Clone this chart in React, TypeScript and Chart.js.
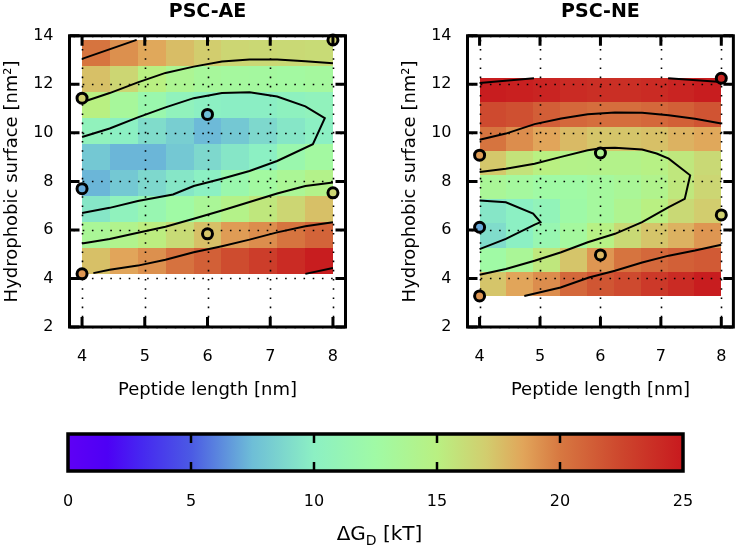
import React, { useEffect, useRef } from 'react';
import { Chart, registerables } from 'chart.js';

Chart.register(...registerables);

// ---------- data ----------
const lengthTicks = [4, 5, 6, 7, 8];
const surfaceTicks = [2, 4, 6, 8, 10, 12, 14];
const colorTicks = [0, 5, 10, 15, 20, 25];

const lengthRange = [4, 8];
const aeSurfaceRange = [4.19, 13.83];
const neSurfaceRange = [3.28, 12.25];

// Free energy grid (kT); rows from top (largest surface) to bottom, columns from 4 to 8 nm
const aeGrid = [
  [20.2, 19.2, 18.4, 17.6, 17.0, 16.5, 16.4, 16.3, 16.2],
  [17.5, 16.5, 15.0, 13.8, 13.2, 13.0, 12.9, 12.8, 13.0],
  [15.0, 13.2, 11.8, 10.6, 10.0, 9.9, 9.9, 10.3, 10.6],
  [10.6, 10.0, 9.0, 8.3, 7.4, 8.0, 8.8, 9.5, 10.0],
  [8.0, 7.3, 7.3, 8.0, 8.8, 9.5, 10.0, 11.8, 12.8],
  [7.3, 8.0, 8.8, 9.5, 10.0, 11.8, 12.8, 13.6, 14.4],
  [9.5, 10.5, 11.5, 12.5, 13.5, 14.5, 15.5, 16.5, 17.5],
  [13.5, 14.2, 15.2, 16.2, 17.5, 18.8, 19.3, 20.2, 21.0],
  [17.5, 18.5, 19.2, 20.3, 21.2, 22.2, 23.0, 24.0, 24.8],
];
const neGrid = [
  [24.8, 24.6, 24.4, 24.0, 23.8, 23.8, 24.0, 24.4, 24.8],
  [22.3, 22.0, 21.3, 20.8, 20.5, 20.5, 20.8, 21.2, 21.8],
  [20.2, 19.3, 18.5, 17.7, 17.3, 17.3, 17.5, 18.0, 18.4],
  [17.2, 15.8, 15.0, 14.5, 14.4, 14.4, 14.8, 15.5, 16.3],
  [13.5, 13.0, 12.5, 12.5, 13.0, 13.5, 14.2, 15.5, 16.5],
  [9.5, 10.0, 10.8, 12.3, 13.0, 14.0, 15.0, 16.3, 17.0],
  [9.0, 10.0, 11.5, 13.0, 14.8, 16.3, 17.3, 18.0, 19.0],
  [12.5, 13.5, 15.5, 17.3, 19.0, 20.2, 20.8, 21.2, 21.5],
  [17.3, 18.5, 19.3, 20.8, 21.7, 22.3, 23.2, 24.0, 24.8],
];

// simulated points
const aePointLength = [4, 4, 4, 6, 6, 8, 8];
const aePointSurface = [4.19, 7.7, 11.43, 10.76, 5.84, 7.53, 13.83];
const aePointDG = [19.0, 7.0, 16.8, 7.5, 17.3, 16.5, 16.8];

const nePointLength = [4, 4, 4, 6, 6, 8, 8];
const nePointSurface = [9.08, 6.11, 3.28, 9.17, 4.97, 12.25, 6.62];
const nePointDG = [18.8, 7.0, 19.0, 14.0, 17.8, 24.3, 16.8];

// contour lines [length, surface]
const aeContours: number[][][] = [
  [[4.0, 13.05], [4.87, 13.83]],
  [[4.0, 11.26], [4.44, 11.64], [4.89, 12.08], [5.33, 12.47], [5.78, 12.73], [6.23, 12.94], [6.67, 13.02], [7.11, 13.02], [7.56, 12.95], [8.0, 12.87]],
  [[4.0, 9.83], [4.44, 10.18], [4.89, 10.64], [5.33, 11.05], [5.78, 11.43], [6.23, 11.64], [6.67, 11.67], [7.11, 11.5], [7.56, 11.09], [7.87, 10.61], [7.68, 9.53], [7.11, 8.84], [6.67, 8.43], [6.23, 8.11], [5.78, 7.81], [5.45, 7.46], [4.89, 7.19], [4.44, 6.91], [4.0, 6.7]],
  [[4.0, 5.44], [4.44, 5.63], [4.89, 5.88], [5.33, 6.13], [5.78, 6.46], [6.23, 6.8], [6.67, 7.15], [7.11, 7.5], [7.56, 7.81], [8.0, 7.95]],
  [[4.18, 4.22], [4.44, 4.36], [4.89, 4.53], [5.33, 4.77], [5.78, 5.08], [6.23, 5.33], [6.67, 5.6], [7.11, 5.9], [7.56, 6.15], [8.0, 6.32]],
  [[7.56, 4.19], [8.0, 4.43]],
];
const neContours: number[][][] = [
  [[4.0, 12.05], [4.9, 12.25]],
  [[7.12, 12.25], [8.0, 12.1]],
  [[4.0, 9.72], [4.435, 9.97], [4.91, 10.36], [5.35, 10.59], [5.79, 10.77], [6.24, 10.84], [6.69, 10.83], [7.13, 10.73], [7.565, 10.58], [8.0, 10.39]],
  [[4.0, 8.39], [4.435, 8.52], [4.91, 8.73], [5.35, 9.01], [5.79, 9.28], [6.03, 9.38], [6.24, 9.39], [6.69, 9.31], [6.93, 9.15], [7.13, 8.94], [7.485, 8.25], [7.395, 7.28], [7.13, 6.94], [6.69, 6.32], [6.24, 5.84], [5.79, 5.49], [5.35, 5.08], [4.91, 4.73], [4.435, 4.39], [4.0, 4.15]],
  [[4.0, 7.21], [4.435, 7.14], [4.886, 6.67], [5.008, 6.32], [4.912, 6.22], [4.435, 5.63], [4.0, 5.21]],
  [[4.74, 3.28], [5.34, 3.63], [5.81, 4.04], [6.24, 4.32], [6.69, 4.66], [7.13, 4.94], [7.565, 5.15], [8.0, 5.39]],
];

// colour map
const cmapStops = [0, 1.6, 3, 5, 7.5, 10, 12.5, 15, 17, 18.5, 20, 22.5, 25];
const cmapColors = [
  [95, 0, 245], [78, 0, 245], [70, 40, 240], [75, 90, 228], [110, 190, 215],
  [140, 240, 195], [160, 250, 165], [185, 240, 130], [210, 205, 110],
  [225, 165, 90], [215, 120, 65], [205, 70, 45], [200, 25, 30],
];

// ---------- helpers ----------
const FONT = '"DejaVu Sans", sans-serif';

function colorFor(v: number): string {
  const n = cmapStops.length;
  if (v <= cmapStops[0]) return `rgb(${cmapColors[0].join(',')})`;
  if (v >= cmapStops[n - 1]) return `rgb(${cmapColors[n - 1].join(',')})`;
  for (let i = 0; i < n - 1; i++) {
    if (v >= cmapStops[i] && v <= cmapStops[i + 1]) {
      const t = (v - cmapStops[i]) / (cmapStops[i + 1] - cmapStops[i]);
      const a = cmapColors[i], b = cmapColors[i + 1];
      const c = a.map((ai, k) => Math.round(ai + (b[k] - ai) * t));
      return `rgb(${c.join(',')})`;
    }
  }
  return '#000';
}

function panelPlugin(grid: number[][], yRange: number[]) {
  return {
    id: 'panelDecor',
    beforeDatasetsDraw(chart: any) {
      const { ctx, chartArea, scales } = chart;
      const xs = scales.x, ys = scales.y;
      const nRows = grid.length, nCols = grid[0].length;
      const dx = (lengthRange[1] - lengthRange[0]) / nCols;
      const dy = (yRange[1] - yRange[0]) / nRows;
      ctx.save();
      for (let r = 0; r < nRows; r++) {
        const row = grid[nRows - 1 - r];
        for (let c = 0; c < nCols; c++) {
          const x0 = xs.getPixelForValue(lengthRange[0] + c * dx);
          const x1 = xs.getPixelForValue(lengthRange[0] + (c + 1) * dx);
          const y0 = ys.getPixelForValue(yRange[0] + r * dy);
          const y1 = ys.getPixelForValue(yRange[0] + (r + 1) * dy);
          ctx.fillStyle = colorFor(row[c]);
          ctx.fillRect(Math.round(x0), Math.round(y1), Math.round(x1) - Math.round(x0), Math.round(y0) - Math.round(y1));
        }
      }
      ctx.strokeStyle = '#000';
      ctx.lineWidth = 1.6;
      ctx.setLineDash([1.6, 7.6]);
      xs.ticks.forEach((t: any) => {
        const px = Math.round(xs.getPixelForValue(t.value)) + 0.5;
        ctx.beginPath();
        ctx.moveTo(px, chartArea.top + 4);
        ctx.lineTo(px, chartArea.bottom);
        ctx.stroke();
      });
      ys.ticks.forEach((t: any) => {
        const py = Math.round(ys.getPixelForValue(t.value)) + 0.5;
        ctx.beginPath();
        ctx.moveTo(chartArea.left + 4, py);
        ctx.lineTo(chartArea.right, py);
        ctx.stroke();
      });
      ctx.restore();
    },
    afterDatasetsDraw(chart: any) {
      const { ctx, chartArea, scales } = chart;
      const xs = scales.x, ys = scales.y;
      const tl = 10;
      ctx.save();
      ctx.strokeStyle = '#000';
      ctx.lineWidth = 3;
      ctx.setLineDash([]);
      xs.ticks.forEach((t: any) => {
        const px = xs.getPixelForValue(t.value);
        ctx.beginPath();
        ctx.moveTo(px, chartArea.bottom);
        ctx.lineTo(px, chartArea.bottom - tl);
        ctx.moveTo(px, chartArea.top);
        ctx.lineTo(px, chartArea.top + tl);
        ctx.stroke();
      });
      ys.ticks.forEach((t: any) => {
        const py = ys.getPixelForValue(t.value);
        ctx.beginPath();
        ctx.moveTo(chartArea.left, py);
        ctx.lineTo(chartArea.left + tl, py);
        ctx.moveTo(chartArea.right, py);
        ctx.lineTo(chartArea.right - tl, py);
        ctx.stroke();
      });
      ctx.lineJoin = 'miter';
      ctx.strokeRect(chartArea.left, chartArea.top, chartArea.right - chartArea.left, chartArea.bottom - chartArea.top);
      ctx.restore();
    },
  };
}

function panelConfig(
  title: string,
  grid: number[][],
  yRange: number[],
  pLen: number[],
  pSurf: number[],
  pDG: number[],
  contours: number[][][],
  padRight: number,
): any {
  const datasets: any[] = [
    {
      label: 'simulations',
      data: pLen.map((x, i) => ({ x, y: pSurf[i] })),
      pointRadius: 5,
      pointBorderWidth: 3,
      pointBorderColor: '#000',
      pointBackgroundColor: pDG.map(colorFor),
      showLine: false,
      clip: false,
      order: 0,
    },
    ...contours.map((c, i) => ({
      label: 'contour ' + i,
      data: c.map(([x, y]) => ({ x, y })),
      showLine: true,
      borderColor: '#000',
      borderWidth: 2,
      pointRadius: 0,
      tension: 0,
      clip: false,
      order: 1,
    })),
  ];
  return {
    type: 'scatter',
    data: { datasets },
    options: {
      animation: false,
      responsive: false,
      events: [],
      layout: { padding: { left: 0, right: padRight, top: 0, bottom: 0 } },
      plugins: {
        legend: { display: false },
        tooltip: { enabled: false },
        title: {
          display: true,
          text: title,
          fullSize: false,
          color: '#000',
          font: { family: FONT, size: 19, weight: 'bold', lineHeight: 1.2 },
          padding: { top: 1, bottom: 12 },
        },
      },
      scales: {
        x: {
          type: 'linear',
          min: 3.8,
          max: 8.2,
          afterBuildTicks: (s: any) => { s.ticks = lengthTicks.map((v) => ({ value: v })); },
          afterFit: (s: any) => { s.height = 83; },
          grid: { display: false, drawTicks: false },
          border: { display: false },
          ticks: { color: '#000', font: { family: FONT, size: 16 }, padding: 20, maxRotation: 0 },
          title: {
            display: true,
            text: 'Peptide length [nm]',
            color: '#000',
            font: { family: FONT, size: 18 },
            padding: { top: 0, bottom: 9 },
          },
        },
        y: {
          type: 'linear',
          min: 2,
          max: 14,
          afterBuildTicks: (s: any) => { s.ticks = surfaceTicks.map((v) => ({ value: v })); },
          afterFit: (s: any) => { s.width = 69.5; },
          grid: { display: false, drawTicks: false },
          border: { display: false },
          ticks: { color: '#000', font: { family: FONT, size: 16 }, padding: 16 },
          title: {
            display: true,
            text: 'Hydrophobic surface [nm²]',
            color: '#000',
            font: { family: FONT, size: 18 },
            padding: { top: 2, bottom: 0 },
          },
        },
      },
    },
    plugins: [panelPlugin(grid, yRange)],
  };
}

const colorbarPlugin = {
  id: 'colorbarDecor',
  afterDraw(chart: any) {
    const { ctx, chartArea, scales } = chart;
    const xs = scales.x;
    ctx.save();
    const p0 = xs.getPixelForValue(cmapStops[0]);
    const p1 = xs.getPixelForValue(cmapStops[cmapStops.length - 1]);
    const g = ctx.createLinearGradient(p0, 0, p1, 0);
    cmapStops.forEach((s, i) => {
      g.addColorStop((s - cmapStops[0]) / (cmapStops[cmapStops.length - 1] - cmapStops[0]), `rgb(${cmapColors[i].join(',')})`);
    });
    ctx.fillStyle = g;
    ctx.fillRect(chartArea.left, chartArea.top, chartArea.right - chartArea.left, chartArea.bottom - chartArea.top);
    ctx.strokeStyle = '#000';
    ctx.lineWidth = 2.5;
    const tl = 9;
    xs.ticks.forEach((t: any, i: number) => {
      if (i === 0 || i === xs.ticks.length - 1) return;
      const px = xs.getPixelForValue(t.value);
      ctx.beginPath();
      ctx.moveTo(px, chartArea.top);
      ctx.lineTo(px, chartArea.top + tl);
      ctx.moveTo(px, chartArea.bottom);
      ctx.lineTo(px, chartArea.bottom - tl);
      ctx.stroke();
    });
    ctx.lineWidth = 3.5;
    ctx.strokeRect(chartArea.left, chartArea.top, chartArea.right - chartArea.left, chartArea.bottom - chartArea.top);

    // axis title with subscript
    const big = `20px ${FONT}`;
    const small = `14px ${FONT}`;
    const parts = [
      { t: 'ΔG', f: big, dy: 0 },
      { t: 'D', f: small, dy: 5 },
      { t: ' [kT]', f: big, dy: 0 },
    ];
    let total = 0;
    parts.forEach((p) => { ctx.font = p.f; total += ctx.measureText(p.t).width; });
    let x = (chartArea.left + chartArea.right) / 2 + 4 - total / 2;
    const baseY = 130;
    ctx.fillStyle = '#000';
    ctx.textBaseline = 'alphabetic';
    ctx.textAlign = 'left';
    parts.forEach((p) => {
      ctx.font = p.f;
      ctx.fillText(p.t, x, baseY + p.dy);
      x += ctx.measureText(p.t).width;
    });
    ctx.restore();
  },
};

function colorbarConfig(): any {
  return {
    type: 'scatter',
    data: { datasets: [] },
    options: {
      animation: false,
      responsive: false,
      events: [],
      layout: { padding: { left: 68, right: 64, top: 24, bottom: 0 } },
      plugins: { legend: { display: false }, tooltip: { enabled: false }, title: { display: false } },
      scales: {
        x: {
          type: 'linear',
          min: 0,
          max: 25,
          afterBuildTicks: (s: any) => { s.ticks = colorTicks.map((v) => ({ value: v })); },
          afterFit: (s: any) => { s.height = 74; },
          grid: { display: false, drawTicks: false },
          border: { display: false },
          ticks: { color: '#000', font: { family: FONT, size: 16 }, padding: 21, maxRotation: 0 },
        },
        y: { display: false, min: 0, max: 1 },
      },
    },
    plugins: [colorbarPlugin],
  };
}

export default function App() {
  const leftRef = useRef<HTMLCanvasElement>(null);
  const rightRef = useRef<HTMLCanvasElement>(null);
  const barRef = useRef<HTMLCanvasElement>(null);

  useEffect(() => {
    const charts = [
      new Chart(leftRef.current!, panelConfig('PSC-AE', aeGrid, aeSurfaceRange, aePointLength, aePointSurface, aePointDG, aeContours, 52.5)),
      new Chart(rightRef.current!, panelConfig('PSC-NE', neGrid, neSurfaceRange, nePointLength, nePointSurface, nePointDG, neContours, 3.5)),
      new Chart(barRef.current!, colorbarConfig()),
    ];
    return () => charts.forEach((c) => c.destroy());
  }, []);

  return (
    <div style={{ position: 'absolute', left: 0, top: 0, width: 747, height: 545, background: '#fff', overflow: 'hidden' }}>
      <canvas ref={leftRef} width={398} height={410} style={{ position: 'absolute', left: 0, top: 0, width: 398, height: 410 }} />
      <canvas ref={rightRef} width={349} height={410} style={{ position: 'absolute', left: 398, top: 0, width: 349, height: 410 }} />
      <canvas ref={barRef} width={747} height={135} style={{ position: 'absolute', left: 0, top: 410, width: 747, height: 135 }} />
    </div>
  );
}
